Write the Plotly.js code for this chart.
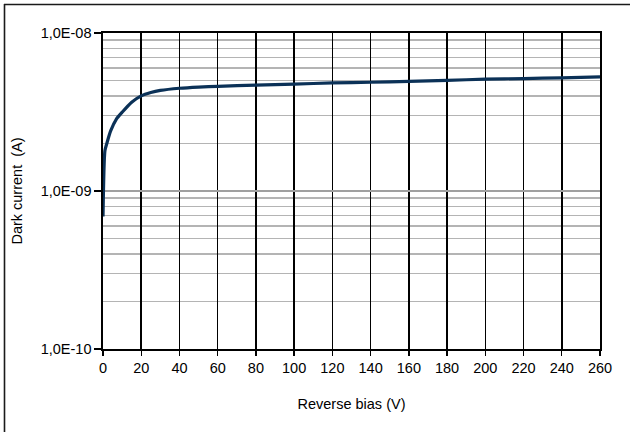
<!DOCTYPE html>
<html>
<head>
<meta charset="utf-8">
<script src="https://cdn.plot.ly/plotly-3.0.1.min.js"></script>
<style>html,body{margin:0;padding:0;background:#fff;}#chart{width:630px;height:432px;}</style>
</head>
<body>
<div id="chart"></div>
<script>
// Data
const reverseBias = [0, 1, 2, 4, 7, 10, 15, 20, 25, 30, 40, 50, 60, 80, 100, 120, 140, 160, 180, 200, 220, 240, 260];
const darkCurrent = [6.9e-10, 1.8e-9, 2.0e-9, 2.4e-9, 2.85e-9, 3.15e-9, 3.65e-9, 4.0e-9, 4.2e-9, 4.33e-9, 4.47e-9, 4.55e-9, 4.6e-9, 4.68e-9, 4.75e-9, 4.83e-9, 4.88e-9, 4.94e-9, 5.02e-9, 5.1e-9, 5.15e-9, 5.2e-9, 5.27e-9];
const yTickVals = [1e-10, 1e-9, 1e-8];
const yTickText = ["1,0E-10", "1,0E-09", "1,0E-08"];
const xTitle = "Reverse bias (V)";
const yTitle = "Dark current  (A)";

// minor log grid (2..9 per decade)
const minorVals = [];
for (let d = -10; d < -8; d++) {
  for (let m = 2; m <= 9; m++) minorVals.push(m * Math.pow(10, d));
}

const font = {family: "Liberation Sans, Arial, sans-serif", size: 14.5, color: "#000"};
const L = 103, R = 600, T = 33, B = 349;
const px2x = p => (p - L) / (R - L);
const px2y = p => (B - p) / (B - T);

const trace = {
  x: reverseBias, y: darkCurrent, type: "scatter", mode: "lines",
  line: {color: "#0b3157", width: 3.2, shape: "spline", smoothing: 0.6},
  hoverinfo: "skip", showlegend: false
};

const layout = {
  width: 630, height: 432,
  margin: {l: L, r: 630 - R, t: T, b: 432 - B},
  paper_bgcolor: "#fff", plot_bgcolor: "#fff",
  font: font,
  showlegend: false,
  xaxis: {
    range: [0, 260], dtick: 20, tick0: 0,
    showgrid: true, gridcolor: "#000", gridwidth: 1.6,
    zeroline: false, showline: true, mirror: true, linecolor: "#000", linewidth: 1.6,
    ticks: "outside", ticklen: 5, tickwidth: 1.3, tickcolor: "#000",
    tickfont: font,
    title: {text: xTitle, font: font, standoff: 24}
  },
  yaxis: {
    type: "log", range: [-10, -8],
    tickmode: "array", tickvals: yTickVals, ticktext: yTickText,
    showgrid: true, gridcolor: "#a0a0a0", gridwidth: 1.8,
    minor: {tickmode: "array", tickvals: minorVals, showgrid: true, gridcolor: "#b4b4b4", gridwidth: 1.6, ticks: ""},
    zeroline: false, showline: true, mirror: true, linecolor: "#000", linewidth: 1.6,
    ticks: "outside", ticklen: 7, tickwidth: 1.3, tickcolor: "#000",
    tickfont: font,
    title: {text: yTitle, font: font, standoff: 14}
  },
  shapes: [
    {type: "line", xref: "paper", yref: "paper", x0: px2x(4), x1: px2x(640), y0: px2y(4.5), y1: px2y(4.5), line: {color: "#1a1a1a", width: 1.6}},
    {type: "line", xref: "paper", yref: "paper", x0: px2x(4.5), x1: px2x(4.5), y0: px2y(4), y1: px2y(440), line: {color: "#1a1a1a", width: 1.6}}
  ]
};

Plotly.newPlot("chart", [trace], layout, {staticPlot: true, displayModeBar: false});
</script>
</body>
</html>
